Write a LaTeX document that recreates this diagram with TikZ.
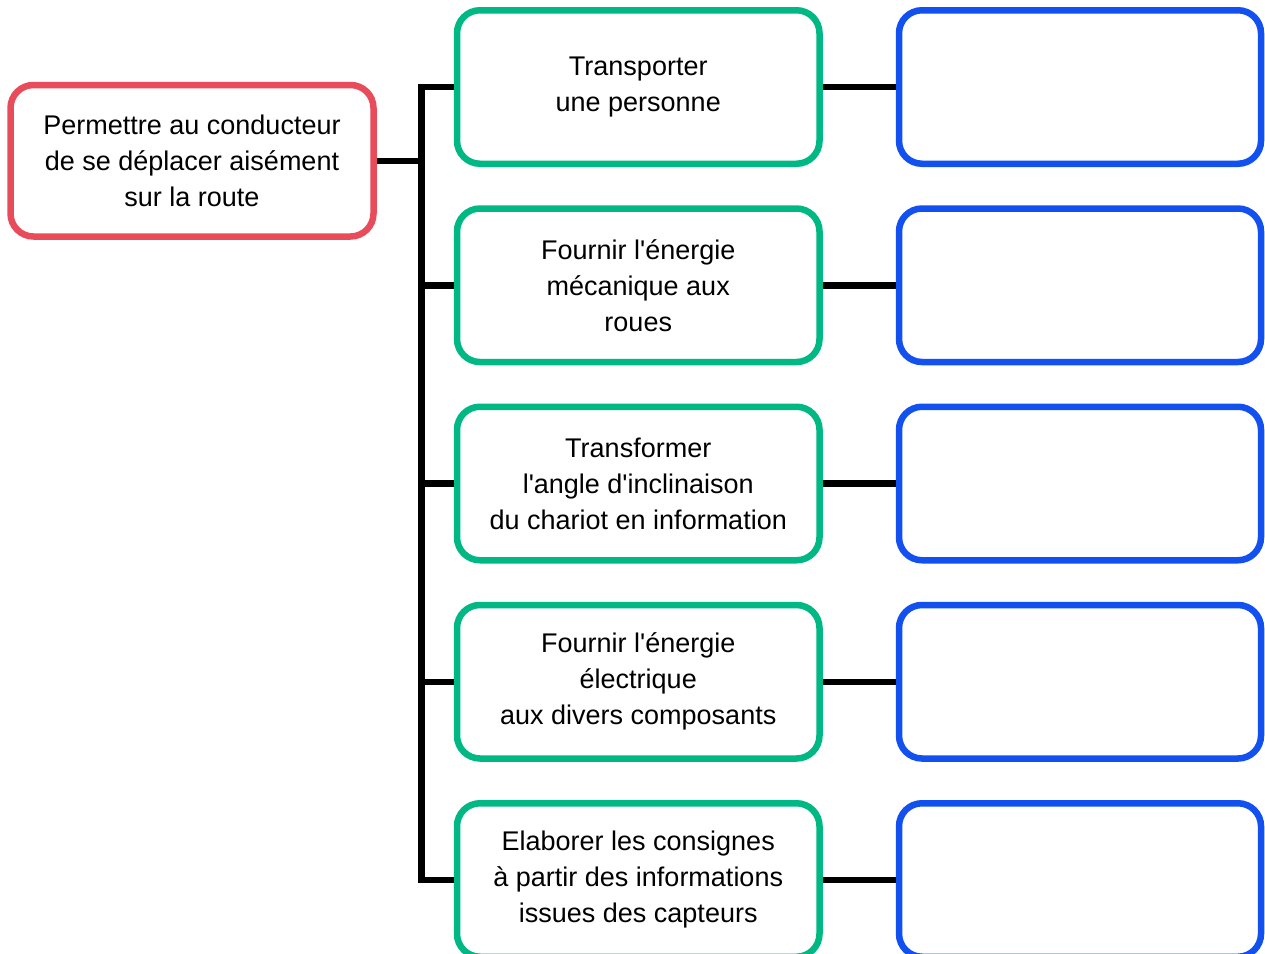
\documentclass[tikz,border=0pt]{standalone}
\usepackage{fontspec}
\setmainfont{Liberation Sans}[Ligatures=TeXOff]
\usetikzlibrary{calc}

\definecolor{goalred}{HTML}{E84C5A}
\definecolor{funcgreen}{HTML}{00B884}
\definecolor{solblue}{HTML}{1250F0}

\begin{document}
\begin{tikzpicture}[x=1pt,y=1pt,
  box/.style={draw,line width=6.5pt,rounded corners=23pt,minimum width=362.5pt,
    minimum height=153.5pt,inner sep=0pt,align=center,
    font=\fontsize{27}{36}\selectfont},
  link/.style={line width=6.5pt}]
\useasboundingbox (0,0) rectangle (1265,-953);
% ---------- main function ----------
\node[box,draw=goalred,minimum width=363pt,minimum height=151.5pt] (goal)
  at (192,-160.75) {Permettre au conducteur\\de se déplacer aisément\\sur la route};
% ---------- sub functions and empty solution boxes ----------
\foreach \i/\txt in {1/{Transporter\\une personne},
    2/{Fournir l'énergie\\mécanique aux\\roues},
    3/{Transformer\\l'angle d'inclinaison\\du chariot en information},
    4/{Fournir l'énergie\\électrique\\aux divers composants},
    5/{Elaborer les consignes\\à partir des informations\\issues des capteurs}}{
  \node[box,draw=funcgreen] (f\i) at (638.25,{-87-198.25*(\i-1)}) {\txt};
  \node[box,draw=solblue,minimum width=362pt] (s\i) at (1080,{-87-198.25*(\i-1)}) {};
  \draw[link] (f\i.east) -- (s\i.west);
}
% ---------- tree ----------
\coordinate (tk) at (421.5,-160.75);
\draw[link] (goal.east) -- (tk);
\draw[link] (f1.west) -| (tk) |- (f5.west);
\foreach \i in {2,3,4}
  \draw[link] (f\i.west) -- (f\i.west -| tk);
\end{tikzpicture}
\end{document}
